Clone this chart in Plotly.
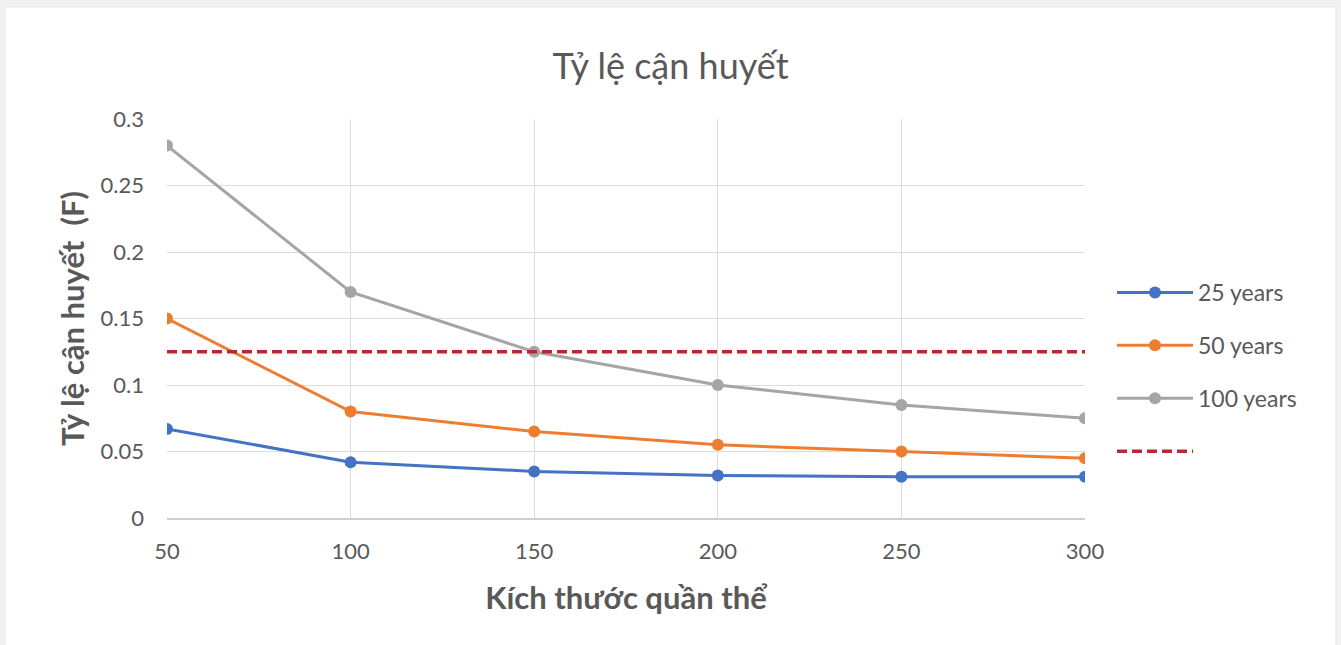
import plotly.graph_objects as go

# Population sizes and inbreeding coefficients after each time span
pop_size = [50, 100, 150, 200, 250, 300]
f_25_years = [0.067, 0.042, 0.035, 0.032, 0.031, 0.031]
f_50_years = [0.15, 0.08, 0.065, 0.055, 0.05, 0.045]
f_100_years = [0.28, 0.17, 0.125, 0.1, 0.085, 0.075]
threshold = 0.125

series_names = ["25 years", "50 years", "100 years"]
series_colors = ["#4472C4", "#ED7D31", "#A5A5A5"]
y_ticks = [0, 0.05, 0.1, 0.15, 0.2, 0.25, 0.3]

W, H = 1341, 645
L, R, T, B = 167, 256, 119, 127
pw, ph = W - L - R, H - T - B

def px_x(p):
    return (p - L) / pw

def px_y(p):
    return (H - B - p) / ph

FONT = "Lato, 'Open Sans', sans-serif"
TXT = "#595959"

fig = go.Figure()
for i, (name, vals, col) in enumerate(zip(series_names, [f_25_years, f_50_years, f_100_years], series_colors)):
    fig.add_trace(go.Scatter(
        x=pop_size, y=vals, name=name, mode="lines+markers",
        line=dict(color=col, width=3),
        marker=dict(color=col, size=12),
        legendgroup=f"g{i}",
    ))

fig.add_trace(go.Scatter(
    x=[pop_size[0], pop_size[-1]], y=[threshold, threshold], name=" ",
    mode="lines", line=dict(color="#B8282E", width=3.5, dash="10px,5px"),
    legendgroup="g3",
))

fig.update_layout(
    width=W, height=H,
    margin=dict(l=L, r=R, t=T, b=B),
    paper_bgcolor="#f1f1f1",
    plot_bgcolor="white",
    font=dict(family=FONT, color=TXT, size=22),
    title=dict(text="Tỷ lệ cận huyết", x=0.5, xref="container", xanchor="center",
               y=1 - 66 / H, yref="container", yanchor="middle",
               font=dict(size=36, color=TXT, family=FONT)),
    showlegend=True,
    legend=dict(x=px_x(1112), xanchor="left", y=px_y(271), yanchor="top",
                font=dict(size=23, color=TXT), itemwidth=76,
                tracegroupgap=20, traceorder="grouped",
                bgcolor="rgba(0,0,0,0)"),
    shapes=[dict(type="rect", xref="paper", yref="paper", layer="below",
                 x0=px_x(5), x1=px_x(1336), y0=px_y(660), y1=px_y(7),
                 fillcolor="white", line=dict(color="#e6e6e6", width=1))],
)

fig.update_xaxes(
    range=[50, 300], tickvals=pop_size, showgrid=True, gridcolor="#dcdcdc", gridwidth=1,
    zeroline=False, showline=True, linecolor="#cfcfcf", linewidth=1.5,
    ticks="", ticklabelstandoff=13, tickfont=dict(size=22, color=TXT),
    title=dict(text="<b>Kích thước quần thể</b>", font=dict(size=31, color=TXT), standoff=24),
)
fig.update_yaxes(
    range=[0, 0.3], tickvals=y_ticks, showgrid=True, gridcolor="#dcdcdc", gridwidth=1,
    zeroline=False, showline=False, ticks="", ticklabelstandoff=22,
    tickfont=dict(size=22, color=TXT),
    title=dict(text="<b>Tỷ lệ cận huyết  (F)</b>", font=dict(size=31, color=TXT), standoff=6),
)

fig.write_html("out.html")
